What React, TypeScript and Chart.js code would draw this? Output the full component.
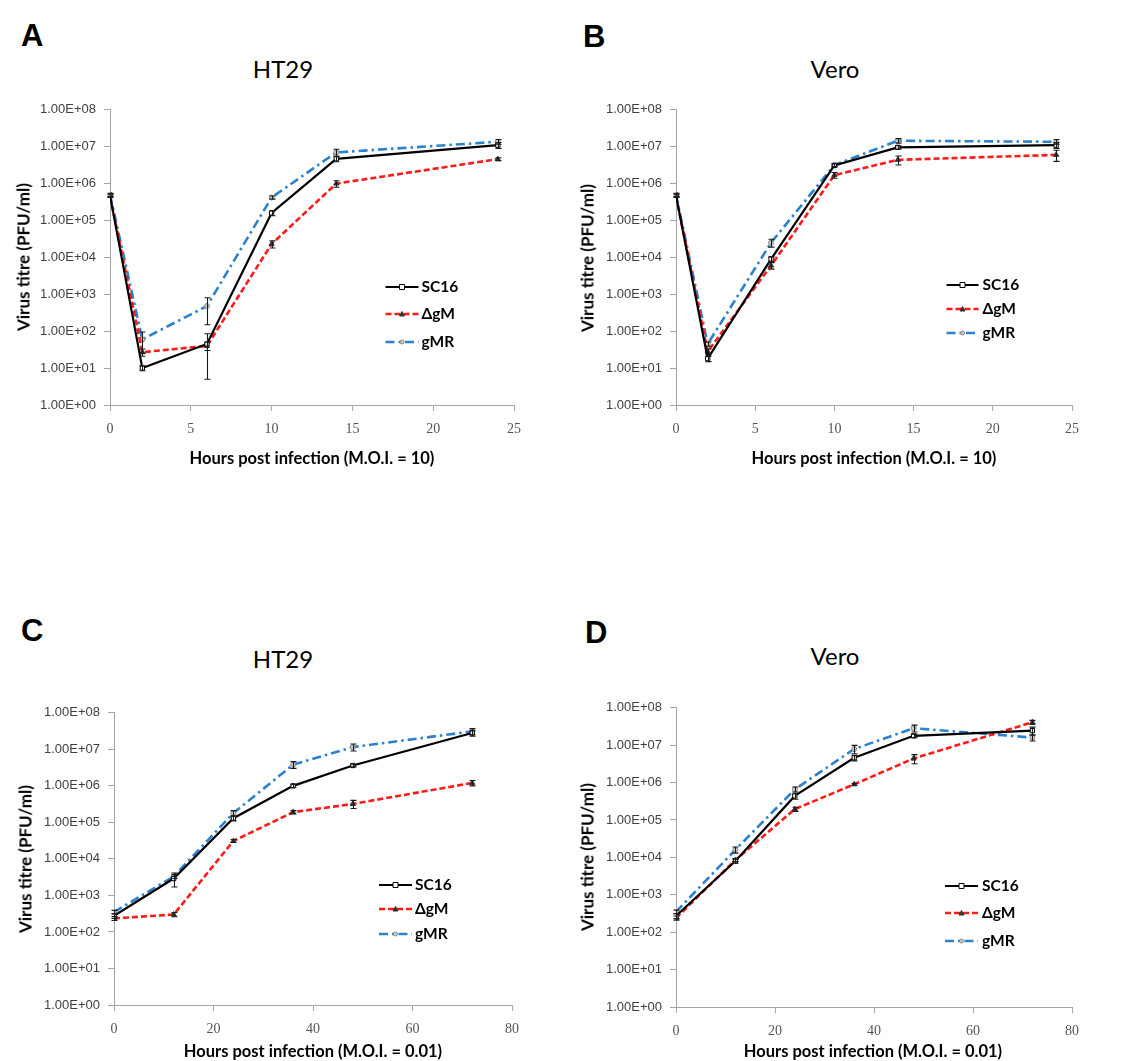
import React, { useEffect, useRef } from 'react';
import { Chart, registerables } from 'chart.js';
Chart.register(...registerables);

// ---------- data ----------
const hoursShort = [0, 2, 6, 10, 14, 24];
const hoursLong = [0, 12, 24, 36, 48, 72];
const seriesLabels = ['SC16', 'ΔgM', 'gMR'];
const yTickExponents = [0, 1, 2, 3, 4, 5, 6, 7, 8];

// Panel A: HT29, MOI 10
const A_SC16 = [4.8e5, 10, 45, 1.6e5, 4.7e6, 1.1e7];
const A_SC16_err = [5e4, 1.5, 40, 2.5e4, 8e5, 2e6];
const A_dgM = [4.6e5, 27, 40, 2.3e4, 1.0e6, 4.6e6];
const A_dgM_err = [4e4, 6, 10, 5e3, 2e5, 4e5];
const A_gMR = [5.0e5, 60, 480, 4.2e5, 7.0e6, 1.36e7];
const A_gMR_err = [5e4, 35, 330, 4e4, 1.5e6, 2e6];

// Panel B: Vero, MOI 10
const B_SC16 = [4.8e5, 18, 9e3, 3.1e6, 9.6e6, 1.1e7];
const B_SC16_err = [5e4, 3, 1.5e3, 3e5, 1e6, 2e6];
const B_dgM = [4.6e5, 28, 6e3, 1.7e6, 4.4e6, 6e6];
const B_dgM_err = [4e4, 5, 1.2e3, 3e5, 1.2e6, 2e6];
const B_gMR = [5.0e5, 45, 2.5e4, 3.2e6, 1.45e7, 1.36e7];
const B_gMR_err = [5e4, 6, 6e3, 3e5, 2e6, 2e6];

// Panel C: HT29, MOI 0.01
const C_SC16 = [275, 2.9e3, 1.3e5, 1.0e6, 3.6e6, 2.8e7];
const C_SC16_err = [40, 1.2e3, 2e4, 1e5, 3e5, 5e6];
const C_dgM = [235, 300, 3.1e4, 1.9e5, 3.2e5, 1.2e6];
const C_dgM_err = [30, 40, 3e3, 2e4, 8e4, 2e5];
const C_gMR = [350, 3.3e3, 1.8e5, 3.8e6, 1.15e7, 3.1e7];
const C_gMR_err = [40, 400, 3e4, 8e5, 2.5e6, 6e6];

// Panel D: Vero, MOI 0.01
const D_SC16 = [270, 8e3, 4.4e5, 4.6e6, 1.78e7, 2.45e7];
const D_SC16_err = [40, 1e3, 8e4, 8e5, 2e6, 6e6];
const D_dgM = [240, 8.5e3, 1.95e5, 9e5, 4.4e6, 4.1e7];
const D_dgM_err = [30, 800, 2.5e4, 5e4, 1.2e6, 5e6];
const D_gMR = [350, 1.6e4, 6.6e5, 7.9e6, 2.85e7, 1.6e7];
const D_gMR_err = [40, 3e3, 1e5, 2e6, 6e6, 3e6];

// ---------- styles ----------
const STYLES = [
  { color: '#000000', dash: [] as number[], width: 2.2, point: 'rect', pr: 3, pbg: '#ffffff', pbc: '#000000' },
  { color: '#FF1A1A', dash: [6, 3], width: 2.6, point: 'triangle', pr: 3, pbg: '#333333', pbc: '#333333' },
  { color: '#2B80CF', dash: [9, 4, 2.5, 4], width: 2.6, point: 'circle', pr: 2.5, pbg: '#cccccc', pbc: '#888888' },
];

type Plot = { L: number; R: number; T: number; B: number };
type PanelCfg = {
  letter: string; letterPos: [number, number];
  title: string; titlePos: [number, number];
  xTitle: string; xTitlePos: [number, number];
  yTitlePos: [number, number];
  hours: number[]; xMax: number; xStep: number;
  values: number[][]; errs: number[][];
  plot: Plot;
  legend: { x1: number; x2: number; tx: number; ys: number[] };
};

const panels: PanelCfg[] = [
  {
    letter: 'A', letterPos: [21, 18], title: 'HT29', titlePos: [283, 68],
    xTitle: 'Hours post infection (M.O.I. = 10)', xTitlePos: [312, 458], yTitlePos: [23, 257],
    hours: hoursShort, xMax: 25, xStep: 5,
    values: [A_SC16, A_dgM, A_gMR], errs: [A_SC16_err, A_dgM_err, A_gMR_err],
    plot: { L: 109.5, R: 514, T: 106, B: 405 },
    legend: { x1: 385, x2: 418, tx: 421, ys: [287, 314, 342] },
  },
  {
    letter: 'B', letterPos: [583, 19], title: 'Vero', titlePos: [835, 68],
    xTitle: 'Hours post infection (M.O.I. = 10)', xTitlePos: [874, 458], yTitlePos: [587, 258],
    hours: hoursShort, xMax: 25, xStep: 5,
    values: [B_SC16, B_dgM, B_gMR], errs: [B_SC16_err, B_dgM_err, B_gMR_err],
    plot: { L: 675.5, R: 1072, T: 106, B: 405 },
    legend: { x1: 946, x2: 978, tx: 982, ys: [285, 309, 333] },
  },
  {
    letter: 'C', letterPos: [21, 613], title: 'HT29', titlePos: [283, 658],
    xTitle: 'Hours post infection (M.O.I. = 0.01)', xTitlePos: [313, 1051], yTitlePos: [25, 859],
    hours: hoursLong, xMax: 80, xStep: 20,
    values: [C_SC16, C_dgM, C_gMR], errs: [C_SC16_err, C_dgM_err, C_gMR_err],
    plot: { L: 114, R: 512, T: 709, B: 1005 },
    legend: { x1: 379, x2: 412, tx: 415, ys: [885, 909, 934] },
  },
  {
    letter: 'D', letterPos: [585, 615], title: 'Vero', titlePos: [835, 655],
    xTitle: 'Hours post infection (M.O.I. = 0.01)', xTitlePos: [873, 1051], yTitlePos: [587, 857],
    hours: hoursLong, xMax: 80, xStep: 20,
    values: [D_SC16, D_dgM, D_gMR], errs: [D_SC16_err, D_dgM_err, D_gMR_err],
    plot: { L: 676, R: 1072, T: 704, B: 1007 },
    legend: { x1: 945, x2: 978, tx: 982, ys: [886, 913, 941] },
  },
];

const fmtExp = (v: number) => {
  const e = Math.round(Math.log10(v));
  return '1.00E+' + String(e).padStart(2, '0');
};

const PAD_L = 80, PAD_T = 12, PAD_R = 32, PAD_B = 44;

function drawMarker(ctx: CanvasRenderingContext2D, kind: string, x: number, y: number, r: number, bg: string, bc: string) {
  ctx.save();
  ctx.setLineDash([]);
  ctx.fillStyle = bg; ctx.strokeStyle = bc; ctx.lineWidth = 1;
  ctx.beginPath();
  if (kind === 'rect') {
    ctx.rect(x - r, y - r, 2 * r, 2 * r);
  } else if (kind === 'triangle') {
    ctx.moveTo(x, y - r); ctx.lineTo(x + r, y + r * 0.8); ctx.lineTo(x - r, y + r * 0.8); ctx.closePath();
  } else {
    ctx.arc(x, y, r, 0, Math.PI * 2);
  }
  ctx.fill(); ctx.stroke();
  ctx.restore();
}

function PanelChart({ cfg }: { cfg: PanelCfg }) {
  const ref = useRef<HTMLCanvasElement | null>(null);
  const cx = cfg.plot.L - PAD_L;
  const cy = cfg.plot.T - PAD_T;
  const cw = cfg.plot.R - cfg.plot.L + PAD_L + PAD_R;
  const ch = cfg.plot.B - cfg.plot.T + PAD_T + PAD_B;

  useEffect(() => {
    if (!ref.current) return;
    const errorBars = {
      id: 'errorBars',
      afterDatasetsDraw(chart: any) {
        const ctx = chart.ctx as CanvasRenderingContext2D;
        const xs = chart.scales.x, ys = chart.scales.y;
        ctx.save();
        ctx.strokeStyle = '#1a1a1a'; ctx.lineWidth = 1.1; ctx.setLineDash([]);
        cfg.values.forEach((vals, i) => {
          vals.forEach((v, j) => {
            const e = cfg.errs[i][j];
            const x = Math.round(xs.getPixelForValue(cfg.hours[j])) + 0.5;
            const yT = ys.getPixelForValue(v + e);
            const yB = ys.getPixelForValue(Math.max(v - e, 1.05));
            ctx.beginPath();
            ctx.moveTo(x, yT); ctx.lineTo(x, yB);
            ctx.moveTo(x - 3, yT); ctx.lineTo(x + 3, yT);
            ctx.moveTo(x - 3, yB); ctx.lineTo(x + 3, yB);
            ctx.stroke();
          });
        });
        ctx.restore();
      },
    };
    const legendBox = {
      id: 'legendBox',
      afterDraw(chart: any) {
        const ctx = chart.ctx as CanvasRenderingContext2D;
        const lg = cfg.legend;
        seriesLabels.forEach((lab, i) => {
          const st = STYLES[i];
          const y = lg.ys[i] - cy;
          const x1 = lg.x1 - cx, x2 = lg.x2 - cx;
          ctx.save();
          ctx.strokeStyle = st.color; ctx.lineWidth = st.width; ctx.setLineDash(st.dash);
          ctx.beginPath(); ctx.moveTo(x1, y); ctx.lineTo(x2, y); ctx.stroke();
          ctx.restore();
          drawMarker(ctx, st.point, (x1 + x2) / 2, y, st.pr - 0.5, st.pbg, st.pbc);
          ctx.save();
          ctx.fillStyle = '#000000';
          ctx.font = 'bold 15.5px Lato';
          ctx.textBaseline = 'middle';
          ctx.fillText(lab, lg.tx - cx, y);
          ctx.restore();
        });
      },
    };

    const datasets = cfg.values.map((vals, i) => {
      const st = STYLES[i];
      return {
        label: seriesLabels[i],
        data: vals.map((v, j) => ({ x: cfg.hours[j], y: v })),
        borderColor: st.color,
        borderWidth: st.width,
        borderDash: st.dash,
        pointStyle: st.point,
        pointRadius: st.pr,
        pointBackgroundColor: st.pbg,
        pointBorderColor: st.pbc,
        pointBorderWidth: 1,
        fill: false,
        tension: 0,
      };
    });

    const chart = new Chart(ref.current, {
      type: 'line',
      data: { datasets: datasets as any },
      plugins: [errorBars, legendBox],
      options: {
        animation: false,
        responsive: false,
        maintainAspectRatio: false,
        layout: { padding: { left: 0, top: PAD_T, right: PAD_R, bottom: 0 } },
        plugins: { legend: { display: false }, tooltip: { enabled: false }, title: { display: false } },
        scales: {
          x: {
            type: 'linear', min: 0, max: cfg.xMax,
            border: { display: true, color: '#A6A6A6', width: 1 },
            grid: { display: true, drawOnChartArea: false, drawTicks: true, tickLength: 6, color: '#A6A6A6' },
            ticks: {
              stepSize: cfg.xStep, padding: 10, color: '#555555',
              font: { family: 'Liberation Serif', size: 14 },
              maxRotation: 0,
            },
            afterFit(scale: any) { scale.height = PAD_B; },
          },
          y: {
            type: 'logarithmic', min: 1, max: 1e8,
            border: { display: true, color: '#A6A6A6', width: 1 },
            grid: { display: true, drawOnChartArea: false, drawTicks: true, tickLength: 6, color: '#A6A6A6' },
            afterBuildTicks(scale: any) {
              scale.ticks = yTickExponents.map((e) => ({ value: Math.pow(10, e), major: true }));
            },
            ticks: {
              color: '#404040', padding: 8,
              font: { family: 'Liberation Sans', size: 13 },
              callback: (v: any) => fmtExp(Number(v)),
              autoSkip: false,
            },
            afterFit(scale: any) { scale.width = PAD_L; },
          },
        },
      } as any,
    });
    return () => chart.destroy();
  }, []);

  const textBase: React.CSSProperties = { position: 'absolute', whiteSpace: 'nowrap', color: '#000', lineHeight: 1 };
  return (
    <>
      <canvas ref={ref} width={cw} height={ch}
        style={{ position: 'absolute', left: cx, top: cy, width: cw, height: ch }} />
      <div style={{ ...textBase, left: cfg.letterPos[0], top: cfg.letterPos[1], font: 'bold 31px "Liberation Sans"' }}>{cfg.letter}</div>
      <div style={{ ...textBase, left: cfg.titlePos[0], top: cfg.titlePos[1], transform: 'translate(-50%, -50%)', font: '24px Lato' }}>{cfg.title}</div>
      <div style={{ ...textBase, left: cfg.xTitlePos[0], top: cfg.xTitlePos[1], transform: 'translate(-50%, -50%)', font: 'bold 16.5px Lato' }}>{cfg.xTitle}</div>
      <div style={{ ...textBase, left: cfg.yTitlePos[0], top: cfg.yTitlePos[1], transform: 'translate(-50%, -50%) rotate(-90deg)', font: 'bold 17px Lato' }}>Virus titre (PFU/ml)</div>
    </>
  );
}

export default function App() {
  return (
    <div style={{ position: 'absolute', left: 0, top: 0, width: 1125, height: 1061, background: '#ffffff', overflow: 'hidden' }}>
      {panels.map((p) => <PanelChart key={p.letter} cfg={p} />)}
    </div>
  );
}
